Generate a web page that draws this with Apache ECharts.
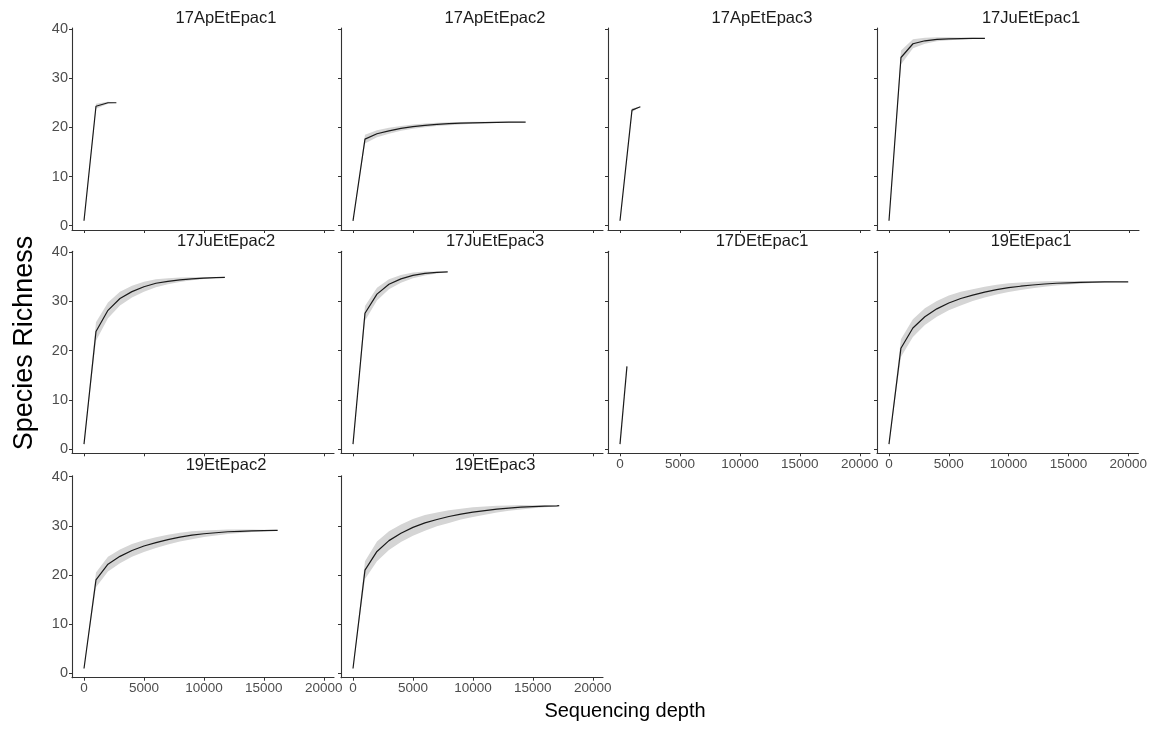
<!DOCTYPE html>
<html>
<head>
<meta charset="utf-8">
<script src="https://cdn.jsdelivr.net/npm/echarts@6/dist/echarts.min.js"></script>
<style>html,body{margin:0;padding:0;background:#fff;}#c{width:1150px;height:729px;}</style>
</head>
<body>
<div id="c"></div>
<script>
// ---- data ----
const panelNames = ['17ApEtEpac1','17ApEtEpac2','17ApEtEpac3','17JuEtEpac1','17JuEtEpac2','17JuEtEpac3','17DEtEpac1','19EtEpac1','19EtEpac2','19EtEpac3'];

const depth_17ApEtEpac1 = [1, 1000, 2000, 2700];
const rich_17ApEtEpac1  = [1, 24.3, 25.0, 25.0];
const half_17ApEtEpac1  = [0, 0.5, 0.2, 0];

const depth_17ApEtEpac2 = [1, 1000, 2000, 3000, 4000, 5000, 6000, 7000, 8000, 9000, 10000, 11000, 12000, 13000, 14000, 14400];
const rich_17ApEtEpac2  = [1, 17.6, 18.7, 19.3, 19.8, 20.15, 20.4, 20.6, 20.75, 20.85, 20.92, 20.98, 21.02, 21.05, 21.07, 21.08];
const half_17ApEtEpac2  = [0, 0.9, 0.7, 0.6, 0.5, 0.45, 0.4, 0.35, 0.3, 0.25, 0.2, 0.17, 0.13, 0.1, 0.05, 0];

const depth_17ApEtEpac3 = [1, 1000, 1700];
const rich_17ApEtEpac3  = [1, 23.5, 24.2];
const half_17ApEtEpac3  = [0, 0.4, 0];

const depth_17JuEtEpac1 = [1, 1000, 2000, 3000, 4000, 5000, 6000, 7000, 8000];
const rich_17JuEtEpac1  = [1, 34.2, 37.0, 37.6, 37.9, 38.0, 38.05, 38.1, 38.1];
const half_17JuEtEpac1  = [0, 1.4, 0.9, 0.6, 0.4, 0.3, 0.2, 0.1, 0];

const depth_17JuEtEpac2 = [1, 1000, 2000, 3000, 4000, 5000, 6000, 7000, 8000, 9000, 10000, 11000, 11750];
const rich_17JuEtEpac2  = [1, 23.9, 28.2, 30.6, 32.0, 33.0, 33.7, 34.1, 34.4, 34.6, 34.75, 34.85, 34.9];
const half_17JuEtEpac2  = [0, 1.9, 1.6, 1.4, 1.2, 1.0, 0.8, 0.6, 0.45, 0.3, 0.2, 0.1, 0];

const depth_17JuEtEpac3 = [1, 1000, 2000, 3000, 4000, 5000, 6000, 7000, 7900];
const rich_17JuEtEpac3  = [1, 27.6, 31.5, 33.5, 34.6, 35.3, 35.7, 35.9, 36.0];
const half_17JuEtEpac3  = [0, 1.5, 1.3, 1.0, 0.8, 0.6, 0.4, 0.2, 0];

const depth_17DEtEpac1 = [1, 580];
const rich_17DEtEpac1  = [1, 16.8];
const half_17DEtEpac1  = [0, 0];

const depth_19EtEpac1 = [1, 1000, 2000, 3000, 4000, 5000, 6000, 7000, 8000, 9000, 10000, 11000, 12000, 13000, 14000, 15000, 16000, 17000, 18000, 19000, 20000];
const rich_19EtEpac1  = [1, 20.5, 24.6, 26.9, 28.5, 29.7, 30.6, 31.3, 31.9, 32.4, 32.8, 33.1, 33.35, 33.55, 33.7, 33.8, 33.88, 33.93, 33.97, 34.0, 34.0];
const half_19EtEpac1  = [0, 1.8, 1.8, 1.7, 1.6, 1.5, 1.4, 1.2, 1.1, 1.0, 0.9, 0.75, 0.65, 0.55, 0.45, 0.35, 0.27, 0.2, 0.12, 0.05, 0];

const depth_19EtEpac2 = [1, 1000, 2000, 3000, 4000, 5000, 6000, 7000, 8000, 9000, 10000, 11000, 12000, 13000, 14000, 15000, 16000, 16150];
const rich_19EtEpac2  = [1, 19.0, 22.2, 23.8, 25.0, 25.9, 26.6, 27.2, 27.7, 28.1, 28.4, 28.6, 28.8, 28.9, 29.0, 29.05, 29.1, 29.1];
const half_19EtEpac2  = [0, 1.5, 1.5, 1.4, 1.3, 1.2, 1.1, 1.0, 0.9, 0.8, 0.65, 0.55, 0.45, 0.35, 0.25, 0.15, 0.05, 0];

const depth_19EtEpac3 = [1, 1000, 2000, 3000, 4000, 5000, 6000, 7000, 8000, 9000, 10000, 11000, 12000, 13000, 14000, 15000, 16000, 17000, 17200];
const rich_19EtEpac3  = [1, 21.0, 24.8, 27.0, 28.5, 29.7, 30.6, 31.3, 31.9, 32.4, 32.8, 33.1, 33.4, 33.6, 33.8, 33.9, 34.0, 34.05, 34.1];
const half_19EtEpac3  = [0, 1.8, 2.0, 1.9, 1.8, 1.7, 1.6, 1.4, 1.3, 1.1, 1.0, 0.85, 0.7, 0.55, 0.45, 0.3, 0.2, 0.1, 0];

const xTicks = [0, 5000, 10000, 15000, 20000];
const yTicks = [0, 10, 20, 30, 40];
const xTitle = 'Sequencing depth';
const yTitle = 'Species Richness';

// ---- assemble ----
const panelData = [
  [depth_17ApEtEpac1, rich_17ApEtEpac1, half_17ApEtEpac1],
  [depth_17ApEtEpac2, rich_17ApEtEpac2, half_17ApEtEpac2],
  [depth_17ApEtEpac3, rich_17ApEtEpac3, half_17ApEtEpac3],
  [depth_17JuEtEpac1, rich_17JuEtEpac1, half_17JuEtEpac1],
  [depth_17JuEtEpac2, rich_17JuEtEpac2, half_17JuEtEpac2],
  [depth_17JuEtEpac3, rich_17JuEtEpac3, half_17JuEtEpac3],
  [depth_17DEtEpac1, rich_17DEtEpac1, half_17DEtEpac1],
  [depth_19EtEpac1, rich_19EtEpac1, half_19EtEpac1],
  [depth_19EtEpac2, rich_19EtEpac2, half_19EtEpac2],
  [depth_19EtEpac3, rich_19EtEpac3, half_19EtEpac3]
];

const colLeft = [72, 341, 608, 877];
const rowTop = [28, 251.3, 475.7];
const panelW = 262, panelH = 202;
const xLabelPanels = [6, 7, 8, 9];
const axisColor = '#333333';
const labelColor = '#4d4d4d';
const fontFam = '"Liberation Sans", Arial, Helvetica, sans-serif';

const grids = [], xAxes = [], yAxes = [], series = [], graphics = [];

panelNames.forEach((name, i) => {
  const r = Math.floor(i / 4), c = i % 4;
  grids.push({left: colLeft[c], top: rowTop[r], width: panelW, height: panelH, containLabel: false});
  xAxes.push({
    type: 'value', gridIndex: i, min: -1000, max: 20850,
    axisLine: {show: true, onZero: false, lineStyle: {color: axisColor, width: 1.1}},
    axisTick: {show: true, length: 3, customValues: xTicks, lineStyle: {color: axisColor}},
    axisLabel: {show: xLabelPanels.includes(i), customValues: xTicks, formatter: v => String(v),
      color: labelColor, fontSize: 13.5, fontFamily: fontFam, margin: 4},
    splitLine: {show: false}
  });
  yAxes.push({
    type: 'value', gridIndex: i, min: -0.87, max: 40.2,
    axisLine: {show: true, onZero: false, lineStyle: {color: axisColor, width: 1.1}},
    axisTick: {show: true, length: 3, customValues: yTicks, lineStyle: {color: axisColor}},
    axisLabel: {show: c === 0, customValues: yTicks, formatter: v => String(v),
      color: labelColor, fontSize: 14.5, fontFamily: fontFam, margin: 4},
    splitLine: {show: false}
  });
  const [dep, ric, hw] = panelData[i];
  series.push({
    type: 'custom', xAxisIndex: i, yAxisIndex: i, silent: true, z: 1,
    data: dep.map((d, j) => [d, ric[j]]),
    renderItem: (params, api) => {
      if (params.dataIndex !== 0) return null;
      const pts = [];
      for (let j = 0; j < dep.length; j++) pts.push(api.coord([dep[j], ric[j] + hw[j]]));
      for (let j = dep.length - 1; j >= 0; j--) pts.push(api.coord([dep[j], ric[j] - hw[j]]));
      return {type: 'polygon', shape: {points: pts}, style: {fill: '#d5d5d5'}};
    }
  });
  series.push({
    type: 'line', xAxisIndex: i, yAxisIndex: i, z: 3, showSymbol: false, silent: true,
    data: dep.map((d, j) => [d, ric[j]]),
    lineStyle: {color: '#1a1a1a', width: 1.2}
  });
  graphics.push({
    type: 'text', x: colLeft[c] + panelW / 2 + 23, y: rowTop[r] - 10,
    style: {text: name, fill: '#1a1a1a', font: '16.5px ' + fontFam, textAlign: 'center', textVerticalAlign: 'middle'}
  });
});

graphics.push({
  type: 'text', x: 625, y: 711,
  style: {text: xTitle, fill: '#000', font: '20px ' + fontFam, textAlign: 'center', textVerticalAlign: 'middle'}
});
graphics.push({
  type: 'text', x: 25, y: 343, rotation: Math.PI / 2,
  style: {text: yTitle, fill: '#000', font: '27px ' + fontFam, textAlign: 'center', textVerticalAlign: 'middle'}
});

const chart = echarts.init(document.getElementById('c'), null, {renderer: 'canvas'});
chart.setOption({
  backgroundColor: '#ffffff',
  animation: false,
  grid: grids, xAxis: xAxes, yAxis: yAxes, series: series, graphic: graphics
});
</script>
</body>
</html>
